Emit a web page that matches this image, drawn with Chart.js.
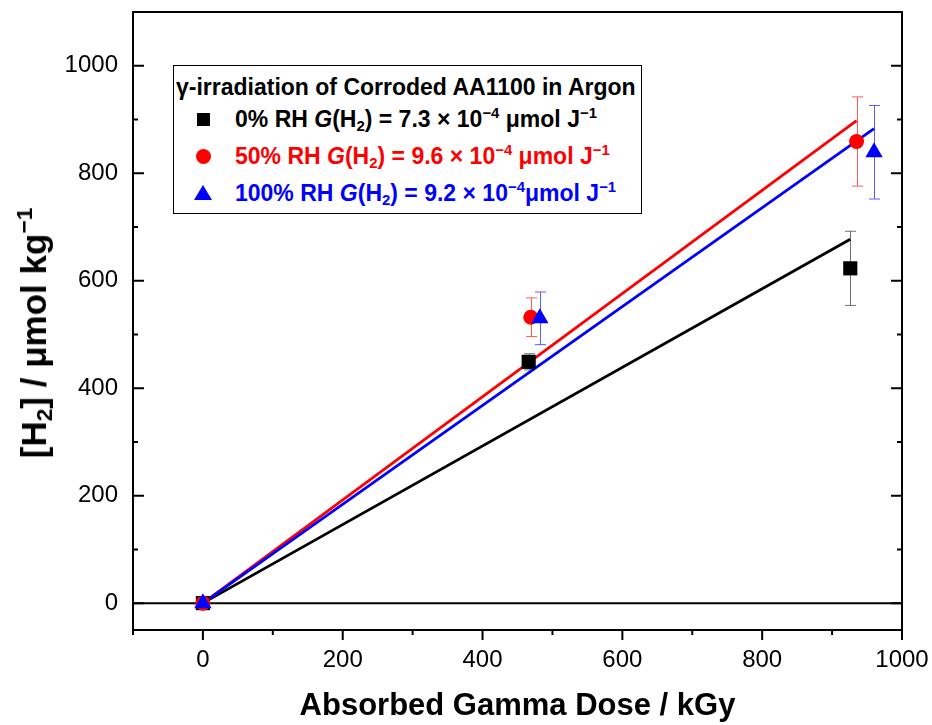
<!DOCTYPE html>
<html>
<head>
<meta charset="utf-8">
<script src="https://cdn.jsdelivr.net/npm/chart.js@4.4.1/dist/chart.umd.min.js"></script>
<style>
  html, body { margin: 0; padding: 0; background: #fff; }
  #wrap { position: relative; width: 932px; height: 725px; font-family: 'Liberation Sans', Arial, sans-serif; }
  #chart { position: absolute; left: 0; top: 0; }
  #ytitle { position: absolute; left: 34px; top: 333px; transform: translate(-50%, -50%) rotate(-90deg);
            font-weight: bold; font-size: 35px; white-space: nowrap; color: #000; }
  #legend { position: absolute; left: 173px; top: 65px; width: 467px; height: 147px;
            border: 1.5px solid #000; background: #fff; font-weight: bold; font-size: 23px; }
  #legend .row { position: absolute; height: 30px; line-height: 30px; white-space: nowrap; }
  #legend .txt { position: absolute; left: 61px; top: 0; }
  sub { font-size: 0.65em; vertical-align: -0.25em; line-height: 0; }
  sup { font-size: 0.65em; vertical-align: 0.6em; line-height: 0; }
  .mk { position: absolute; }
  .sq { left: 23px; top: 9px; width: 13px; height: 13px; background: #000; }
  .ci { left: 22px; top: 8px; width: 15px; height: 15px; border-radius: 50%; background: #f00; }
  .tr { left: 20px; top: 7px; width: 0; height: 0; border-left: 9px solid transparent;
        border-right: 9px solid transparent; border-bottom: 15px solid #00f; }
</style>
</head>
<body>
<div id="wrap">
  <canvas id="chart" width="932" height="725"></canvas>
  <div id="ytitle">[H<sub>2</sub>] / μmol kg<sup>−1</sup></div>
  <div id="legend">
    <div class="row" style="left:2px;top:6px;">γ-irradiation of Corroded AA1100 in Argon</div>
    <div class="row" style="left:0;top:38px;width:100%;">
      <span class="mk sq"></span>
      <span class="txt" style="color:#000">0% RH <i>G</i>(H<sub>2</sub>) = 7.3 × 10<sup>−4</sup> μmol J<sup>−1</sup></span>
    </div>
    <div class="row" style="left:0;top:75px;width:100%;">
      <span class="mk ci"></span>
      <span class="txt" style="color:#f00">50% RH <i>G</i>(H<sub>2</sub>) = 9.6 × 10<sup>−4</sup> μmol J<sup>−1</sup></span>
    </div>
    <div class="row" style="left:0;top:112px;width:100%;">
      <span class="mk tr"></span>
      <span class="txt" style="color:#00f">100% RH <i>G</i>(H<sub>2</sub>) = 9.2 × 10<sup>−4</sup>μmol J<sup>−1</sup></span>
    </div>
  </div>
</div>
<script>
// axis ticks
const xTicks = [0, 200, 400, 600, 800, 1000];
const xMinor = [-100, 100, 300, 500, 700, 900];
const yTicks = [0, 200, 400, 600, 800, 1000];
const yMinor = [100, 300, 500, 700, 900];

// measured H2 (umol/kg) vs dose (kGy), with error
const dose0 = [0, 466, 926];
const h2_0 = [0, 449, 623];
const err0 = [0, 15, 69];

const dose50 = [0, 469, 935];
const h2_50 = [0, 532, 859];
const err50 = [0, 36, 83];

const dose100 = [0, 482, 960];
const h2_100 = [0, 530, 839];
const err100 = [0, 49, 87];

// linear fits (end points)
const fitX0 = [0, 926];
const fitY0 = [0, 677];
const fitX50 = [0, 935];
const fitY50 = [0, 898];
const fitX100 = [0, 960];
const fitY100 = [0, 883];

const pts = (xs, ys) => xs.map((v, i) => ({ x: v, y: ys[i] }));

const errSets = [
  { x: dose0, y: h2_0, err: err0, color: '#6e6e6e' },
  { x: dose50, y: h2_50, err: err50, color: '#ff5a5a' },
  { x: dose100, y: h2_100, err: err100, color: '#5a5aff' }
];

const framePlugin = {
  id: 'frame',
  beforeDatasetsDraw(chart) {
    const { ctx, chartArea: a, scales: { x, y } } = chart;
    ctx.save();
    // zero line
    const y0 = y.getPixelForValue(0);
    ctx.strokeStyle = '#000';
    ctx.lineWidth = 2;
    ctx.beginPath();
    ctx.moveTo(a.left, y0);
    ctx.lineTo(a.right, y0);
    ctx.stroke();
    // error bars
    ctx.lineWidth = 1;
    errSets.forEach(s => {
      ctx.strokeStyle = s.color;
      s.x.forEach((v, i) => {
        if (!s.err[i]) return;
        const px = Math.round(x.getPixelForValue(v)) + 0.5;
        const top = y.getPixelForValue(s.y[i] + s.err[i]);
        const bot = y.getPixelForValue(s.y[i] - s.err[i]);
        ctx.beginPath();
        ctx.moveTo(px, top); ctx.lineTo(px, bot);
        ctx.moveTo(px - 5.5, top); ctx.lineTo(px + 5.5, top);
        ctx.moveTo(px - 5.5, bot); ctx.lineTo(px + 5.5, bot);
        ctx.stroke();
      });
    });
    ctx.restore();
  },
  afterDraw(chart) {
    const { ctx, chartArea: a, scales: { x, y } } = chart;
    ctx.save();
    ctx.strokeStyle = '#000';
    ctx.lineWidth = 2;
    ctx.strokeRect(a.left, a.top, a.right - a.left, a.bottom - a.top);
    ctx.beginPath();
    xTicks.forEach(v => { const p = x.getPixelForValue(v); ctx.moveTo(p, a.bottom); ctx.lineTo(p, a.bottom + 10); });
    xMinor.forEach(v => { const p = x.getPixelForValue(v); ctx.moveTo(p, a.bottom); ctx.lineTo(p, a.bottom + 5); });
    yTicks.forEach(v => {
      const p = y.getPixelForValue(v);
      ctx.moveTo(a.left, p); ctx.lineTo(a.left + 11, p);
      ctx.moveTo(a.right, p); ctx.lineTo(a.right - 11, p);
    });
    yMinor.forEach(v => {
      const p = y.getPixelForValue(v);
      ctx.moveTo(a.left, p); ctx.lineTo(a.left + 5, p);
      ctx.moveTo(a.right, p); ctx.lineTo(a.right - 5, p);
    });
    ctx.stroke();
    ctx.restore();
  }
};

const noPad = s => { s.paddingLeft = 0; s.paddingRight = 0; s.paddingTop = 0; s.paddingBottom = 0; };

Chart.defaults.font.family = "'Liberation Sans', Arial, sans-serif";
Chart.defaults.color = '#000';

new Chart(document.getElementById('chart').getContext('2d'), {
  type: 'scatter',
  data: {
    datasets: [
      { label: '100% RH', data: pts(dose100, h2_100), pointStyle: 'triangle', pointRadius: 10, backgroundColor: '#00f', borderColor: '#00f', borderWidth: 0, order: 1 },
      { label: '50% RH', data: pts(dose50, h2_50), pointStyle: 'circle', pointRadius: 7.5, backgroundColor: '#f00', borderColor: '#f00', borderWidth: 0, order: 2 },
      { label: '0% RH', data: pts(dose0, h2_0), pointStyle: 'rect', pointRadius: 10, backgroundColor: '#000', borderColor: '#000', borderWidth: 0, order: 3 },
      { label: 'fit 100', data: pts(fitX100, fitY100), showLine: true, pointRadius: 0, borderColor: '#00f', borderWidth: 2.8, order: 4 },
      { label: 'fit 50', data: pts(fitX50, fitY50), showLine: true, pointRadius: 0, borderColor: '#f00', borderWidth: 2.8, order: 5 },
      { label: 'fit 0', data: pts(fitX0, fitY0), showLine: true, pointRadius: 0, borderColor: '#000', borderWidth: 2.8, order: 6 }
    ]
  },
  options: {
    responsive: false,
    animation: false,
    layout: { padding: { top: 12, right: 30, left: 0, bottom: 0 } },
    plugins: { legend: { display: false }, tooltip: { enabled: false } },
    scales: {
      x: {
        type: 'linear', min: -100, max: 1000,
        grid: { display: false, drawTicks: false, tickLength: 0 },
        border: { display: false },
        afterBuildTicks: s => { s.ticks = xTicks.map(v => ({ value: v })); },
        afterFit: s => { s.height = 95; noPad(s); },
        ticks: { font: { size: 24 }, padding: 16, maxRotation: 0, callback: v => String(v) },
        title: { display: true, text: 'Absorbed Gamma Dose / kGy', font: { size: 31, weight: 'bold' }, padding: { top: 0, bottom: 0 } }
      },
      y: {
        type: 'linear', min: -50, max: 1100,
        grid: { display: false, drawTicks: false, tickLength: 0 },
        border: { display: false },
        afterBuildTicks: s => { s.ticks = yTicks.map(v => ({ value: v })); },
        afterFit: s => { s.width = 133; noPad(s); },
        ticks: { font: { size: 24 }, padding: 15, callback: v => String(v) }
      }
    }
  },
  plugins: [framePlugin]
});
</script>
</body>
</html>
